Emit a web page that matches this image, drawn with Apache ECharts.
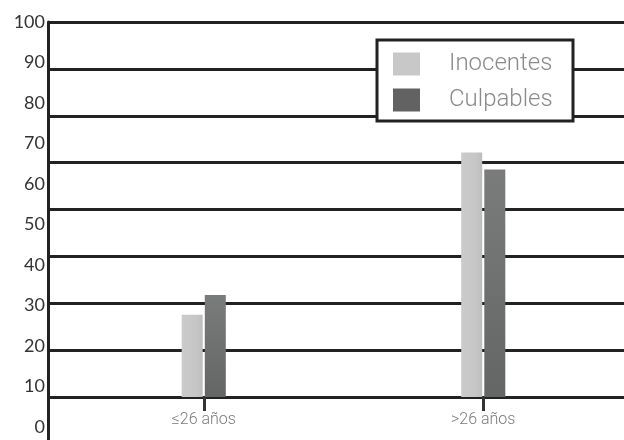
<!DOCTYPE html>
<html>
<head>
<meta charset="utf-8">
<script src="https://cdn.jsdelivr.net/npm/echarts@6/dist/echarts.min.js"></script>
<style>
html,body{margin:0;padding:0;background:#fff;}
#c{width:624px;height:440px;}
</style>
</head>
<body>
<div id="c"></div>
<script>
// ---- data ----
const categories = ['≤26 años', '>26 años'];
const seriesNames = ['Inocentes', 'Culpables'];
const inocentes = [27.7, 67.8];
const culpables = [32.6, 63.6];
const yTickMax = 100;
const yTickStep = 10;
const barBaseline = 7.4;   // value (on the labelled scale) where the bars stand
const gridlineCount = 8;   // number of spaces between the 9 horizontal rules

const FONT = 'Lato, "DejaVu Sans", sans-serif';
const THIN = 'Roboto, Lato, "DejaVu Sans", sans-serif';
const chart = echarts.init(document.getElementById('c'), null, {renderer: 'canvas'});

const hiddenX = (g) => ({type: 'category', gridIndex: g, data: categories, show: false});

chart.setOption({
  animation: false,
  backgroundColor: '#ffffff',
  grid: [
    {left: 48, right: 0, top: 22, bottom: 13},   // labels
    {left: 48, right: 0, top: 22, bottom: 43},   // horizontal rules
    {left: 48, right: 0, top: 22, bottom: 0},    // left axis line
    {left: 64, right: 1, top: 22, bottom: 43}    // bars
  ],
  legend: {
    data: [
      {name: seriesNames[0], itemStyle: {color: '#c8c8c8'}},
      {name: seriesNames[1], itemStyle: {color: '#626262'}}
    ],
    orient: 'vertical',
    left: 377, top: 40,
    padding: [12, 14, 9, 16],
    itemWidth: 27, itemHeight: 23, itemGap: 12,
    icon: 'rect',
    backgroundColor: '#ffffff',
    borderColor: '#222222', borderWidth: 3,
    textStyle: {fontFamily: THIN, fontWeight: 300, fontSize: 24, lineHeight: 23, color: '#8a8a8a',
                padding: [0, 0, 0, 24], width: 110},
    z: 10
  },
  xAxis: [
    hiddenX(0), hiddenX(1), hiddenX(2),
    {
      type: 'category', gridIndex: 3, data: categories, position: 'bottom',
      axisLine: {show: false},
      axisTick: {show: true, alignWithLabel: true, length: 14, lineStyle: {color: '#333333', width: 3}},
      axisLabel: {fontFamily: THIN, fontWeight: 300, fontSize: 16, color: '#7a7a7a', margin: 15}
    }
  ],
  yAxis: [
    {
      type: 'value', gridIndex: 0, min: 0, max: yTickMax, interval: yTickStep,
      axisLine: {show: false}, axisTick: {show: false}, splitLine: {show: false},
      axisLabel: {fontFamily: FONT, fontSize: 18, color: '#333', margin: 3}
    },
    {
      type: 'value', gridIndex: 1, min: 0, max: gridlineCount, interval: 1,
      axisLine: {show: false}, axisTick: {show: false}, axisLabel: {show: false},
      splitLine: {show: true, lineStyle: {color: '#222', width: 3}}
    },
    {
      type: 'value', gridIndex: 2, min: 0, max: 1,
      axisLine: {show: true, lineStyle: {color: '#222', width: 3}},
      axisTick: {show: false}, axisLabel: {show: false}, splitLine: {show: false}
    },
    {
      type: 'value', gridIndex: 3, min: barBaseline, max: yTickMax,
      axisLine: {show: false}, axisTick: {show: false}, axisLabel: {show: false}, splitLine: {show: false}
    }
  ],
  series: [
    {
      name: seriesNames[0], type: 'bar', xAxisIndex: 3, yAxisIndex: 3, clip: true,
      data: inocentes, barWidth: 21, barGap: '10%',
      itemStyle: {color: new echarts.graphic.LinearGradient(0, 0, 1, 0, [
        {offset: 0, color: '#cbcbcb'}, {offset: 0.7, color: '#c6c6c6'}, {offset: 1, color: '#bdbdbd'}])}
    },
    {
      name: seriesNames[1], type: 'bar', xAxisIndex: 3, yAxisIndex: 3, clip: true,
      data: culpables, barWidth: 21,
      itemStyle: {color: new echarts.graphic.LinearGradient(0, 0, 0, 1, [
        {offset: 0, color: '#7a7c7c'}, {offset: 1, color: '#646666'}])}
    }
  ]
});
</script>
</body>
</html>
